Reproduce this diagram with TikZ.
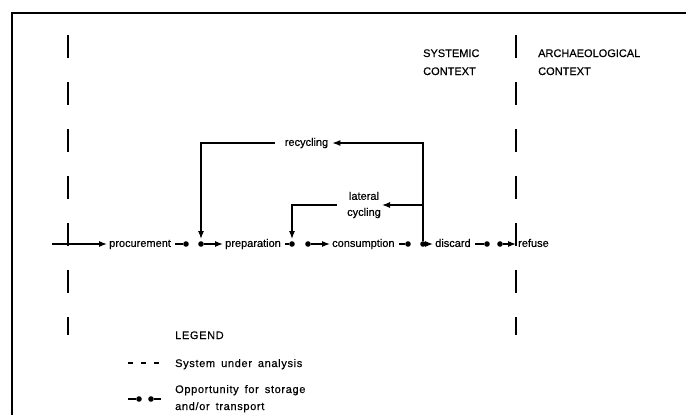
\documentclass[tikz,border=0pt]{standalone}
\usepackage{fontspec}
\setmainfont[FakeBold=0.4]{Liberation Sans}
\newfontfamily\legendfont[LetterSpace=6, FakeBold=0.4]{Liberation Sans}
\newcommand\legendspacing{\spaceskip=6pt plus 1pt\relax}
\usepackage{tikz}
\usetikzlibrary{positioning, arrows.meta, calc}
\tikzset{
    stage/.style={inner xsep=2pt, inner ysep=0pt, text height=5.8pt, text depth=0pt, font=\fontsize{11}{13}\selectfont},
    twoline/.style={inner xsep=1pt, inner ysep=0pt, align=center, font=\fontsize{11}{16}\selectfont},
    heading/.style={anchor=base west, inner sep=0pt, font=\fontsize{11}{13}\selectfont},
    legendtext/.style={anchor=base west, inner sep=0pt, font=\legendfont\fontsize{11}{13}\selectfont\legendspacing},
    storedot/.style={circle, fill=black, inner sep=0pt, minimum size=5.6pt},
    flow/.style={line width=1.1pt},
    flowarrow/.style={line width=1.1pt, -{Latex[length=8pt,width=6pt]}},
    boundary/.style={line width=1.4pt, dash pattern=on 23pt off 24pt},
}
\begin{document}
\begin{tikzpicture}[x=1pt, y=-1pt]
    \useasboundingbox (0,0) rectangle (686,415);

    % frame
    \draw[line width=2.6pt] (12,415) -- (12,13) -- (686,13);

    % system boundaries
    \draw[boundary] (68,35) -- (68,335);
    \draw[boundary] (516,35) -- (516,335);

    \node[heading] (sys) at (423,57) {SYSTEMIC};
    \node[heading] (sysctx) at (423,75) {CONTEXT};
    \node[heading] (arch) at (538,57) {ARCHAEOLOGICAL};
    \node[heading] (archctx) at (538,75) {CONTEXT};

    % stages
    \foreach \name/\xpos/\txt in {
        proc/107/procurement,
        prep/223/preparation,
        cons/330/consumption,
        disc/433/discard,
        refu/516/refuse}{
        \node[stage, anchor=west] (\name) at (\xpos,244) {\txt};
    }

    % storage / transport dots
    \foreach \o/\i/\xo/\xi in {
        o1/i1/186/201,
        o2/i2/292/308,
        o3/i3/408/423,
        o4/i4/487/500}{
        \node[storedot] (\o) at (\xo,244) {};
        \node[storedot] (\i) at (\xi,244) {};
    }

    \coordinate (src) at (52,244);
    \draw[flowarrow] (src) -- (proc.west);

    \foreach \a/\o/\i/\b in {
        proc/o1/i1/prep,
        prep/o2/i2/cons,
        cons/o3/i3/disc,
        disc/o4/i4/refu}{
        \draw[flow] ([xshift=2pt]\a.east) -- (\o);
        \draw[flowarrow] (\i) -- (\b.west);
    }

    % recycling loops
    \node[stage, inner xsep=4pt] (recyc) at (306.5,143) {recycling};
    \node[twoline] (lat) at (364,205) {lateral\\cycling};

    \draw[flowarrow] (i3) -- (i3 |- recyc.east) -- (recyc.east);
    \draw[flowarrow] (i3 |- lat.east) -- (lat.east);
    \draw[flowarrow, shorten >=2pt] ([xshift=-6pt]recyc.west) -- (i1 |- recyc.west) -- (i1);
    \draw[flowarrow, shorten >=2pt] ([xshift=-9pt]lat.west) -- (o2 |- lat.west) -- (o2);

    % legend
    \node[legendtext] (leg) at (175,339) {LEGEND};

    \coordinate (dashs) at (128,363);
    \coordinate (dashe) at (160,363);
    \draw[flow, dash pattern=on 5pt off 8pt] (dashs) -- (dashe);
    \node[legendtext] (sysa) at (175,367) {System under analysis};

    \coordinate (keys) at (128,399);
    \coordinate (keye) at (161,399);
    \node[storedot] (keyo) at (139,399) {};
    \node[storedot] (keyi) at (151,399) {};
    \draw[flow] (keys) -- (keyo);
    \draw[flow] (keyi) -- (keye);
    \node[legendtext] (opp) at (175,393) {Opportunity for storage};
    \node[legendtext] (opp2) at (175,410) {and/or transport};
\end{tikzpicture}
\end{document}
